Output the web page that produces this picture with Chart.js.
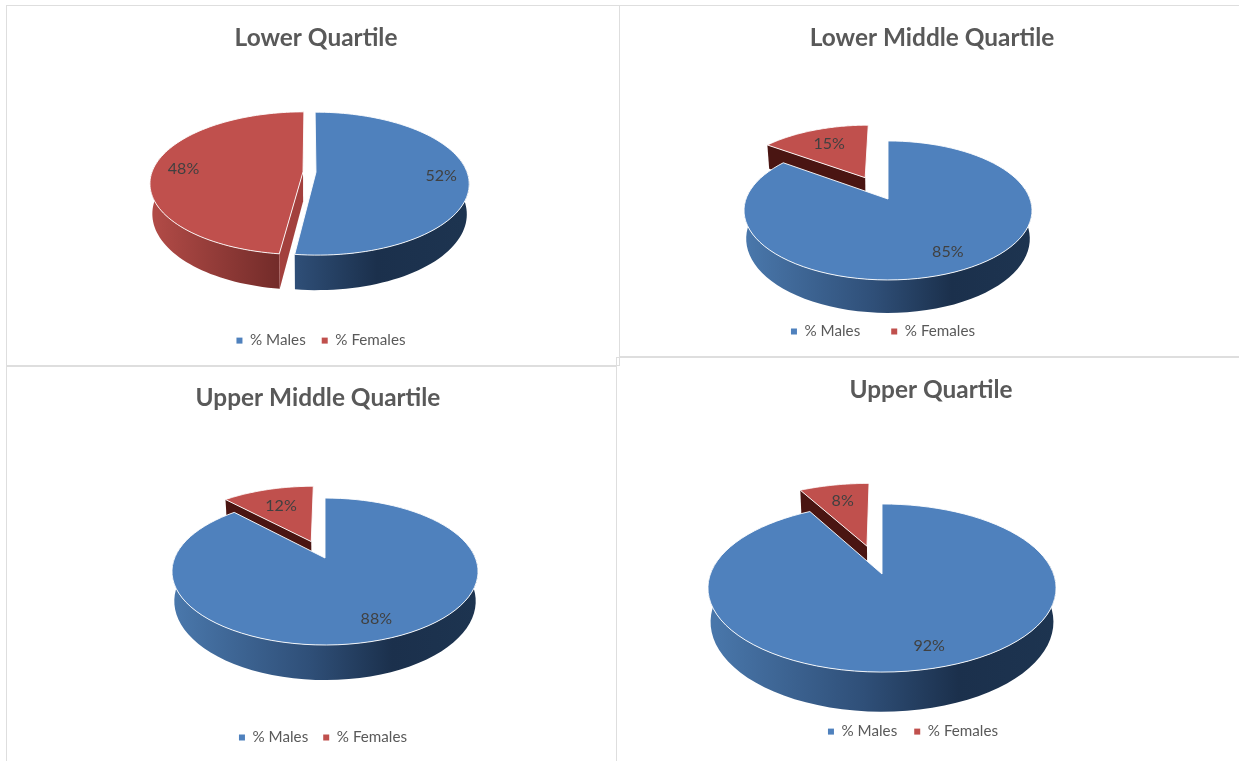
<!DOCTYPE html>
<html>
<head>
<meta charset="utf-8">
<title>Quartiles</title>
<script src="https://cdn.jsdelivr.net/npm/chart.js@4"></script>
<style>
    html, body { margin: 0; padding: 0; background: #fff; overflow: hidden; }
    .panel { position: absolute; box-sizing: border-box; border: 1px solid #dedede; pointer-events: none; filter: blur(0.3px); }
    canvas { position: absolute; filter: blur(0.45px); }
</style>
</head>
<body>
<script>
const categories = ['% Males', '% Females'];
const chartTitles = ['Lower Quartile', 'Lower Middle Quartile', 'Upper Middle Quartile', 'Upper Quartile'];
const lowerQuartile = [52, 48];
const lowerMiddleQuartile = [85, 15];
const upperMiddleQuartile = [88, 12];
const upperQuartile = [92, 8];
const quartileValues = [lowerQuartile, lowerMiddleQuartile, upperMiddleQuartile, upperQuartile];

const topColors = ['#4f81bd', '#c0504d'];

// Box of every panel, and where its pie sits (page pixels). tilt is the fake perspective
const panels = [
    { x: 6, y: 5, w: 614, h: 361, cx: 309.5, cy: 172, radius: 151, squash: 69.6, tilt: 0.16, depth: 29.4, explode: [6.5, 6.5],
      titleX: 316, titleY: 38, legendX: 321, legendY: 340, legendGap: 16, labelAt: [0.83, 0.8], labelNudge: [-1, 0], faceColor: '#a3403d' },
    { x: 619, y: 5, w: 625, h: 352, cx: 888, cy: 199, radius: 142, squash: 67.6, tilt: 0.165, depth: 27.5, explode: [0, 53],
      titleX: 932, titleY: 38, legendX: 883, legendY: 331, legendGap: 31, labelAt: [0.78, 0.68], labelNudge: [3, 0], faceColor: '#4a1512' },
    { x: 6, y: 366, w: 611, h: 400, cx: 325, cy: 558, radius: 150.4, squash: 71, tilt: 0.184, depth: 28.6, explode: [0, 39],
      titleX: 318, titleY: 398, legendX: 323, legendY: 737, legendGap: 15, labelAt: [0.8, 0.66], labelNudge: [0, 0], faceColor: '#4a1512' },
    { x: 616, y: 357, w: 628, h: 410, cx: 882, cy: 574, radius: 171.6, squash: 81.7, tilt: 0.167, depth: 33, explode: [0, 64],
      titleX: 931, titleY: 390, legendX: 913, legendY: 731, legendGap: 17, labelAt: [0.78, 0.71], labelNudge: [9, 1], faceColor: '#4a1512' }
];

function project(p, u, v, lowered) {
    const w = 1 - p.tilt * v;
    let x = p.radius * u / w;
    let y = p.cy + p.squash * v / w;
    if (lowered) {
        x *= 0.985;
        y += p.depth / w;
    }
    return { x: p.cx + x - p.x, y: y - p.y };
}

function tracePoints(ctx, pts) {
    pts.forEach((pt, i) => i ? ctx.lineTo(pt.x, pt.y) : ctx.moveTo(pt.x, pt.y));
    ctx.closePath();
}

function sliceShape(p, arc) {
    const mid = (arc.startAngle + arc.endAngle) / 2;
    const off = arc.options.offset / p.radius;
    const ox = Math.cos(mid) * off;
    const oy = Math.sin(mid) * off;
    const top = [];
    const low = [];
    const wallTop = [];
    const wallLow = [];
    const steps = 90;
    for (let i = 0; i <= steps; i++) {
        const a = arc.startAngle + (arc.endAngle - arc.startAngle) * i / steps;
        const t = project(p, Math.cos(a) + ox, Math.sin(a) + oy, false);
        const l = project(p, Math.cos(a) + ox, Math.sin(a) + oy, true);
        top.push(t);
        low.push(l);
        // the back of the rim is never seen
        if (Math.sin(a) > -0.2) {
            wallTop.push(t);
            wallLow.push(l);
        }
    }
    return { top, low, wallTop, wallLow, apexTop: project(p, ox, oy, false), apexLow: project(p, ox, oy, true), ox, oy, mid };
}

function wallGradient(ctx, p, index) {
    const left = p.cx - p.x - p.radius * 1.015;
    const right = p.cx - p.x + p.radius * 1.015;
    const g = ctx.createLinearGradient(left, 0, right, 0);
    if (index === 0) {
        g.addColorStop(0, '#4a78ac');
        g.addColorStop(0.45, '#2f4f78');
        g.addColorStop(0.72, '#1b304c');
        g.addColorStop(1, '#1d3450');
    } else {
        g.addColorStop(0, '#b04a46');
        g.addColorStop(0.42, '#702a28');
        g.addColorStop(1, '#5a201e');
    }
    return g;
}

// The fake 3D pie. Angles and offsets come from Chart.js' own arc elements
const pie3d = {
    id: 'pie3d',
    afterLayout(chart, args, opts) {
        const p = opts.panel;
        const title = chart.titleBlock;
        const titleDx = p.titleX - p.x - (title.left + title.right) / 2;
        title.left += titleDx;
        title.right += titleDx;
        title.top = p.titleY - p.y - title.height / 2;
        title.bottom = title.top + title.height;

        const legend = chart.legend;
        const legendDx = p.legendX - p.x - (legend.left + legend.right) / 2;
        legend.left += legendDx;
        legend.right += legendDx;
        legend.top = p.legendY - p.y - p.legendGap - 7;
    },
    beforeDatasetsDraw(chart, args, opts) {
        const p = opts.panel;
        const ctx = chart.ctx;
        const arcs = chart.getDatasetMeta(0).data;
        const order = [1, 0];
        order.forEach(i => {
            const s = sliceShape(p, arcs[i]);
            ctx.save();
            if (s.wallTop.length) {
                ctx.fillStyle = wallGradient(ctx, p, i);
                ctx.beginPath();
                tracePoints(ctx, s.wallTop.concat(s.wallLow.slice().reverse()));
                ctx.fill();
            }

            // only the females' cut side ever shows
            if (i === 1) {
                ctx.fillStyle = p.faceColor;
                ctx.beginPath();
                tracePoints(ctx, [s.apexTop, s.top[0], s.low[0], s.apexLow]);
                ctx.fill();
            }

            ctx.fillStyle = topColors[i];
            ctx.strokeStyle = 'rgba(255,255,255,0.9)';
            ctx.lineWidth = 1;
            ctx.beginPath();
            tracePoints(ctx, [s.apexTop].concat(s.top));
            ctx.fill();
            ctx.stroke();
            ctx.restore();
        });
        return false;
    },
    afterDraw(chart, args, opts) {
        const p = opts.panel;
        const ctx = chart.ctx;
        const arcs = chart.getDatasetMeta(0).data;
        ctx.save();
        ctx.font = '16px Lato';
        ctx.fillStyle = '#404040';
        ctx.textAlign = 'center';
        ctx.textBaseline = 'middle';
        arcs.forEach((arc, i) => {
            const s = sliceShape(p, arc);
            const f = p.labelAt[i];
            const pt = project(p, Math.cos(s.mid) * f + s.ox, Math.sin(s.mid) * f + s.oy, false);
            const dx = i === 0 ? p.labelNudge[0] : 0;
            const dy = i === 0 ? p.labelNudge[1] : 0;
            ctx.fillText(chart.data.datasets[0].data[i] + '%', pt.x + dx, pt.y + dy);
        });
        ctx.restore();
    }
};

panels.forEach((p, n) => {
    const canvas = document.createElement('canvas');
    canvas.width = p.w;
    canvas.height = p.h;
    canvas.style.left = p.x + 'px';
    canvas.style.top = p.y + 'px';
    canvas.style.width = p.w + 'px';
    canvas.style.height = p.h + 'px';
    document.body.appendChild(canvas);

    const box = document.createElement('div');
    box.className = 'panel';
    box.style.left = p.x + 'px';
    box.style.top = p.y + 'px';
    box.style.width = p.w + 'px';
    box.style.height = p.h + 'px';
    document.body.appendChild(box);

    new Chart(canvas.getContext('2d'), {
        type: 'pie',
        data: {
            labels: categories,
            datasets: [{
                data: quartileValues[n],
                backgroundColor: topColors,
                borderWidth: 0,
                offset: p.explode,
                radius: p.radius
            }]
        },
        options: {
            responsive: false,
            animation: false,
            plugins: {
                pie3d: { panel: p },
                tooltip: { enabled: false },
                title: {
                    display: true,
                    text: chartTitles[n],
                    color: '#595959',
                    font: { family: 'Lato', size: 24.4, weight: 'bold' },
                    padding: 0
                },
                legend: {
                    position: 'bottom',
                    labels: {
                        boxWidth: 6,
                        boxHeight: 6,
                        padding: p.legendGap,
                        color: '#595959',
                        font: { family: 'Lato', size: 15.2 }
                    }
                }
            }
        },
        plugins: [pie3d]
    });
});
</script>
</body>
</html>
